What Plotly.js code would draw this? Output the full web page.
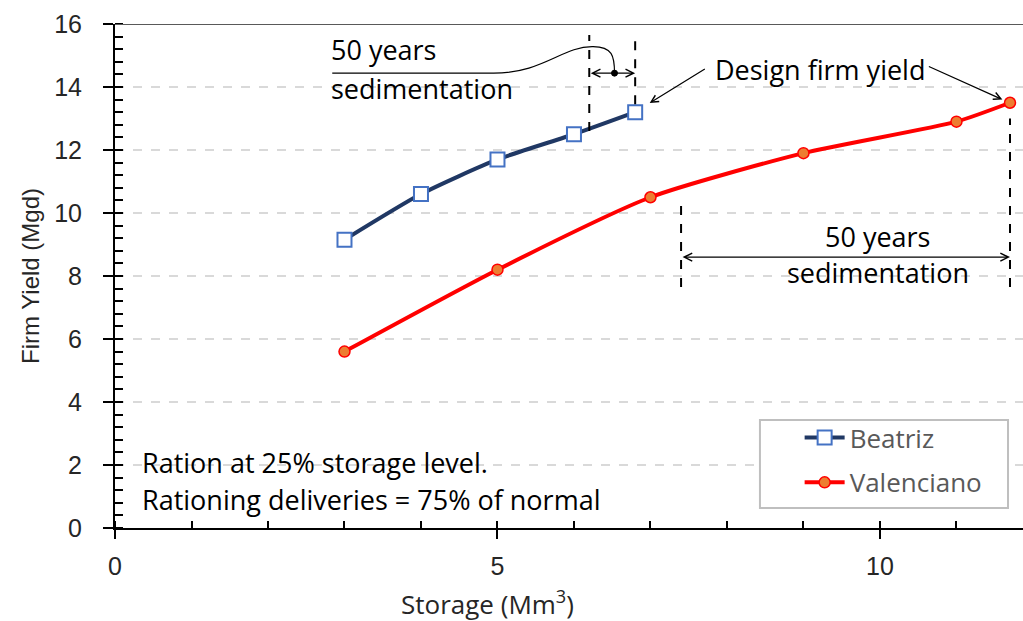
<!DOCTYPE html>
<html>
<head>
<meta charset="utf-8">
<script src="https://cdn.plot.ly/plotly-3.0.1.min.js"></script>
<style>html,body{margin:0;padding:0;background:#fff;}#chart{width:1023px;height:621px;}</style>
</head>
<body>
<div id="chart"></div>
<script>
// Data
const beatrizStorage = [3, 4, 5, 6, 6.8];
const beatrizYield = [9.15, 10.6, 11.7, 12.5, 13.2];
const valencianoStorage = [3, 5, 7, 9, 11, 11.7];
const valencianoYield = [5.6, 8.2, 10.5, 11.9, 12.9, 13.5];
const xTicks = [0, 5, 10];
const yTicks = [0, 2, 4, 6, 8, 10, 12, 14, 16];
const noteLines = ["Ration at 25% storage level.", "Rationing deliveries = 75% of normal"];
const sedLeft = [6.2, 6.8];     // Beatriz sedimentation span
const sedRight = [7.4, 11.7];   // Valenciano sedimentation span

const FAM = "'Open Sans', Lato, sans-serif";
const annFont = {family: FAM, size: 27, color: "#000"};
const tickFont = {family: "'Liberation Sans', Arial, sans-serif", size: 25, color: "#262626"};

const traces = [
  {
    x: beatrizStorage, y: beatrizYield, name: "Beatriz", type: "scatter", mode: "lines+markers",
    legendgroup: "b",
    line: {color: "#203864", width: 4, shape: "spline", smoothing: 0.6},
    marker: {symbol: "square", size: 14, color: "#ffffff", line: {color: "#4472C4", width: 2}}
  },
  {
    x: valencianoStorage, y: valencianoYield, name: "Valenciano", type: "scatter", mode: "lines+markers",
    legendgroup: "v",
    line: {color: "#FF0000", width: 4, shape: "spline", smoothing: 0.6},
    marker: {symbol: "circle", size: 11, color: "#ED7D31", line: {color: "#FF0000", width: 1.5}}
  }
];

const X_RANGE = [0, 11.87];
const Y_RANGE = [0, 16];

const shapes = [
  // top border
  {type: "line", xref: "paper", yref: "y", x0: 0, x1: 1, y0: 16, y1: 16, line: {color: "#595959", width: 2}},
  // legend frame
  {type: "rect", xref: "paper", yref: "paper", x0: 0.7103, x1: 0.9835, y0: 0.0397, y1: 0.2143, layer: "above", fillcolor: "#ffffff", line: {color: "#BFBFBF", width: 2}},
  // left sedimentation dashed lines
  {type: "line", xref: "x", yref: "y", x0: sedLeft[0], x1: sedLeft[0], y0: 12.6, y1: 15.65, line: {color: "#000", width: 2, dash: "dash"}},
  {type: "line", xref: "x", yref: "y", x0: sedLeft[1], x1: sedLeft[1], y0: 13.45, y1: 15.65, line: {color: "#000", width: 2, dash: "dash"}},
  // right sedimentation dashed lines
  {type: "line", xref: "x", yref: "y", x0: sedRight[0], x1: sedRight[0], y0: 7.65, y1: 10.45, line: {color: "#000", width: 2, dash: "dash"}},
  {type: "line", xref: "x", yref: "y", x0: sedRight[1], x1: sedRight[1], y0: 7.65, y1: 13.0, line: {color: "#000", width: 2, dash: "dash"}},
  // curved leader from "50 years" label
  {type: "path", xref: "x", yref: "y", path: "M 2.84,14.44 L 4.95,14.44 C 5.6,14.44 5.85,15.3 6.25,15.28 C 6.5,15.27 6.53,15.0 6.53,14.44", line: {color: "#000", width: 1.2}},
  // dot
  {type: "circle", xref: "x", yref: "y", xsizemode: "pixel", ysizemode: "pixel", xanchor: 6.53, yanchor: 14.44, x0: -3, x1: 3, y0: -3, y1: 3, fillcolor: "#000", line: {color: "#000", width: 1}}
];

const annotations = [
  // double arrows
  {xref: "x", yref: "y", axref: "x", ayref: "y", x: sedLeft[1], y: 14.44, ax: sedLeft[0], ay: 14.44, text: "", showarrow: true, arrowside: "end+start", arrowhead: 5, arrowsize: 1.2, arrowwidth: 1.3, arrowcolor: "#000"},
  {xref: "x", yref: "y", axref: "x", ayref: "y", x: sedRight[1], y: 8.6, ax: sedRight[0], ay: 8.6, text: "", showarrow: true, arrowside: "end+start", arrowhead: 5, arrowsize: 1.2, arrowwidth: 1.3, arrowcolor: "#000"},
  // labels
  {xref: "x", yref: "y", x: 2.8, y: 15.18, xanchor: "left", yanchor: "middle", text: "50 years", showarrow: false, font: annFont},
  {xref: "x", yref: "y", x: 2.8, y: 13.95, xanchor: "left", yanchor: "middle", text: "sedimentation", showarrow: false, font: annFont},
  {xref: "x", yref: "y", x: 9.97, y: 9.25, xanchor: "center", yanchor: "middle", text: "50 years", showarrow: false, font: annFont},
  {xref: "x", yref: "y", x: 9.97, y: 8.1, xanchor: "center", yanchor: "middle", text: "sedimentation", showarrow: false, font: annFont},
  {xref: "x", yref: "y", x: 9.21, y: 14.55, xanchor: "center", yanchor: "middle", text: "Design firm yield", showarrow: false, font: annFont},
  // design firm yield arrows
  {xref: "x", yref: "y", axref: "x", ayref: "y", x: 6.99, y: 13.49, ax: 7.73, ay: 14.6, text: "", showarrow: true, arrowhead: 5, arrowsize: 1.2, arrowwidth: 1.2, arrowcolor: "#000"},
  {xref: "x", yref: "y", axref: "x", ayref: "y", x: 11.6, y: 13.6, ax: 10.62, ay: 14.67, text: "", showarrow: true, arrowhead: 5, arrowsize: 1.2, arrowwidth: 1.2, arrowcolor: "#000"},
  // note text
  {xref: "x", yref: "y", x: 0.33, y: 2.07, xanchor: "left", yanchor: "middle", text: noteLines[0], showarrow: false, font: {family: FAM, size: 27, color: "#000"}},
  {xref: "x", yref: "y", x: 0.33, y: 0.9, xanchor: "left", yanchor: "middle", text: noteLines[1], showarrow: false, font: {family: FAM, size: 27, color: "#000"}},
  // x axis title
  {xref: "paper", yref: "paper", x: 0.41, y: -0.148, xanchor: "center", yanchor: "middle", text: "Storage (Mm<sup>3</sup>)", showarrow: false, font: {family: FAM, size: 26, color: "#262626"}}
];

const layout = {
  width: 1023, height: 621,
  margin: {l: 115, r: 0, t: 24, b: 93, pad: 0},
  paper_bgcolor: "#fff", plot_bgcolor: "#fff",
  showlegend: true,
  legend: {
    x: 0.754, y: 0.226, xanchor: "left", yanchor: "top",
    bgcolor: "rgba(0,0,0,0)", borderwidth: 0,
    font: {family: FAM, size: 26, color: "#595959"},
    itemwidth: 40, tracegroupgap: 8
  },
  xaxis: {
    range: X_RANGE, tickvals: xTicks, ticktext: xTicks.map(String),
    showgrid: false, zeroline: false,
    showline: true, linecolor: "#000", linewidth: 2,
    ticks: "outside", ticklen: 9, tickwidth: 2, tickcolor: "#000",
    ticklabelstandoff: 6,
    minor: {dtick: 1, ticks: "inside", ticklen: 7, tickwidth: 2, tickcolor: "#000", showgrid: false},
    tickfont: tickFont
  },
  xaxis2: {
    range: X_RANGE, overlaying: "x", matches: "x", showticklabels: false, showgrid: false, zeroline: false,
    tickvals: xTicks, ticks: "inside", ticklen: 10, tickwidth: 2, tickcolor: "#000", showline: false
  },
  yaxis: {
    range: Y_RANGE, tickvals: yTicks, ticktext: yTicks.map(String),
    showgrid: true, gridcolor: "#D9D9D9", gridwidth: 2, griddash: "dash",
    zeroline: false,
    showline: true, linecolor: "#000", linewidth: 2,
    ticks: "outside", ticklen: 10, tickwidth: 2, tickcolor: "#000",
    ticklabelstandoff: 16,
    minor: {dtick: 0.4, ticks: "inside", ticklen: 8, tickwidth: 2, tickcolor: "#000", showgrid: false},
    tickfont: tickFont,
    title: {text: "Firm Yield (Mgd)", font: {family: "'Liberation Sans', Arial, sans-serif", size: 24, color: "#262626"}, standoff: 8}
  },
  yaxis2: {
    range: Y_RANGE, overlaying: "y", matches: "y", showticklabels: false, showgrid: false, zeroline: false,
    tickvals: yTicks, ticks: "inside", ticklen: 14, tickwidth: 2, tickcolor: "#000", showline: false
  },
  shapes: shapes,
  annotations: annotations
};

Plotly.newPlot("chart", traces, layout, {displayModeBar: false, staticPlot: true});
</script>
</body>
</html>
